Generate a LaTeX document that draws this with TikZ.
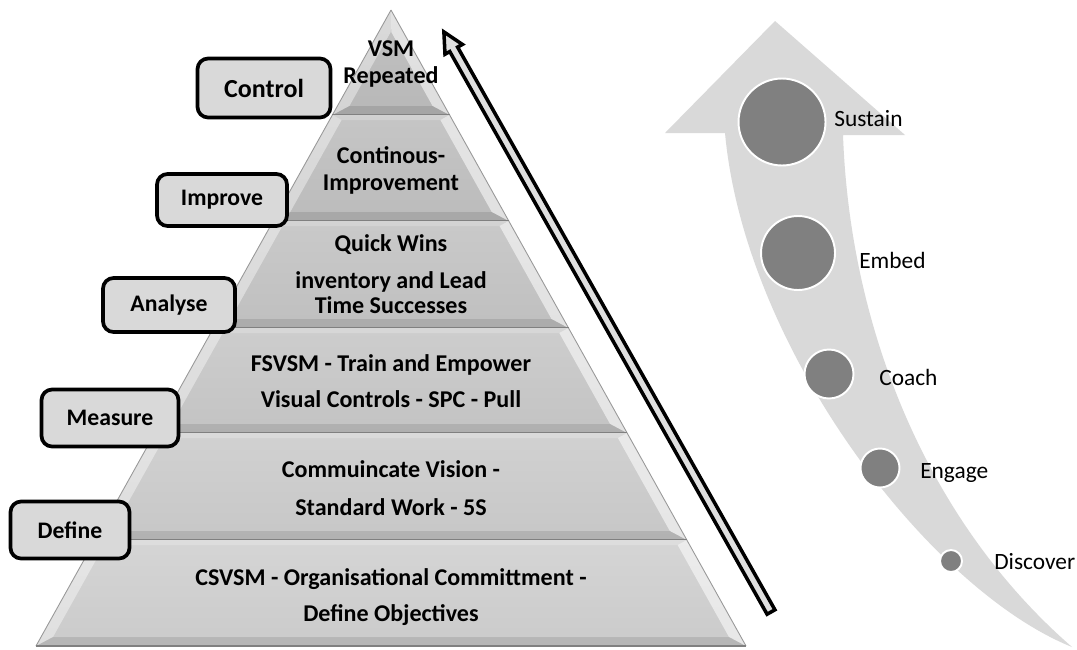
\documentclass[tikz,border=0pt]{standalone}
\usepackage{fontspec}
\setmainfont{Carlito}
\usetikzlibrary{positioning}

\begin{document}
\begin{tikzpicture}[x=0.02cm, y=-0.02cm,
  phase/.style = {draw, rounded corners=6pt, line width=2.1pt, fill=gray!30, inner sep=0pt,
    font=\bfseries\fontsize{13.5}{16}\selectfont},
  level/.style = {anchor=base, inner sep=0pt, font=\bfseries\fontsize{13.7}{16}\selectfont},
  stage/.style = {circle, draw=white, line width=1.1pt, fill=gray, inner sep=0pt},
  tag/.style = {inner sep=0pt, text depth=0pt, font=\fontsize{13.3}{16}\selectfont}]

\fill[white] (0,0) rectangle (1077,649);
\useasboundingbox (0,0) rectangle (1077,649);

% big curved arrow
\fill[gray!30] (665,133) -- (775,21) -- (905,135) -- (843,135)
  .. controls (850,330) and (928,522) .. (1072,647)
  .. controls (930,590) and (745,350) .. (725,133) -- cycle;

% pyramid layers
\foreach \yt/\yb/\sh in {10/115/52, 115/221/49, 221/328/46, 328/433/43, 433/540/40, 540/646/37} {
  \pgfmathsetmacro{\wt}{(\yt-10)*0.5582}
  \pgfmathsetmacro{\wb}{(\yb-10)*0.5582}
  \pgfmathsetmacro{\yi}{max(\yt+5,32)}
  \pgfmathsetmacro{\wi}{(\yi-10)*0.5582-12}
  \pgfmathsetmacro{\yj}{\yb-9}
  \pgfmathsetmacro{\wj}{(\yj-10)*0.5582-12}
  \pgfmathtruncatemacro{\shA}{\sh-4}
  \pgfmathtruncatemacro{\shB}{\sh+4}
  \shade[top color=gray!\shA, bottom color=gray!\shB]
    (391-\wt,\yt) -- (391+\wt,\yt) -- (391+\wb,\yb) -- (391-\wb,\yb) -- cycle;
  \fill[white, opacity=.2] (391-\wt,\yt) -- (391+\wt,\yt) -- (391+\wi,\yi) -- (391-\wi,\yi) -- cycle;
  \fill[white, opacity=.4] (391-\wt,\yt) -- (391-\wi,\yi) -- (391-\wj,\yj) -- (391-\wb,\yb) -- cycle;
  \fill[white, opacity=.55] (391+\wt,\yt) -- (391+\wi,\yi) -- (391+\wj,\yj) -- (391+\wb,\yb) -- cycle;
  \fill[black, opacity=.1] (391-\wb,\yb) -- (391+\wb,\yb) -- (391+\wj,\yj) -- (391-\wj,\yj) -- cycle;
  \draw[gray!80, line width=0.5pt] (391-\wt,\yt) -- (391-\wb,\yb) (391+\wt,\yt) -- (391+\wb,\yb);
  \draw[gray, line width=1.1pt] (391-\wb,\yb) -- (391+\wb,\yb);
}

\foreach \y/\txt [count=\i] in {48/VSM, 75/Repeated, 155/Continous-, 182/Improvement,
    243/Quick Wins, 280/inventory and Lead, 305/Time Successes,
    363/FSVSM - Train and Empower, 399/Visual Controls - SPC - Pull,
    469/Commuincate Vision -, 507/Standard Work - 5S,
    577/CSVSM - Organisational Committment -, 613/Define Objectives}
  \node[level] (line\i) at (391,\y+8) {\txt};

% phase boxes
\node[phase, minimum width=2.66cm, minimum height=1.18cm,
  font=\bfseries\fontsize{14.8}{16}\selectfont] (control) at (264,88) {Control};
\node[phase, minimum width=2.6cm, minimum height=1.04cm] (improve) at (222,200) {Improve};
\node[phase, minimum width=2.64cm, minimum height=1.08cm] (analyse) at (169,305) {Analyse};
\node[phase, minimum width=2.74cm, minimum height=1.14cm] (measure) at (110,418) {Measure};
\node[phase, minimum width=2.38cm, minimum height=1.14cm] (define) at (70,530) {Define};

% climbing arrow
\coordinate (climbfoot) at (771,612);
\begin{scope}[shift={(climbfoot)}, rotate=119.42]
  \filldraw[fill=gray!25, draw=black, line width=2pt, line join=miter]
    (0,-4.5) -- (646,-4.5) -- (646,-10) -- (666,0) -- (646,10) -- (646,4.5) -- (0,4.5) -- cycle;
\end{scope}

% stages
\node[stage, minimum size=1.74cm] (sustain) at (782,122) {};
\node[stage, minimum size=1.48cm] (embed) at (798,253) {};
\node[stage, minimum size=0.98cm] (coach) at (829,374) {};
\node[stage, minimum size=0.78cm] (engage) at (880,468) {};
\node[stage, minimum size=0.44cm] (discover) at (951,561) {};

\node[tag, right=1.5mm of sustain, yshift=0.08cm] (sustainlbl) {Sustain};
\node[tag, right=4.6mm of embed, yshift=-0.14cm] (embedlbl) {Embed};
\node[tag, right=4.9mm of coach, yshift=-0.06cm] (coachlbl) {Coach};
\node[tag, right=3.9mm of engage, yshift=-0.06cm] (engagelbl) {Engage};
\node[tag, right=6.2mm of discover] (discoverlbl) {Discover};

\end{tikzpicture}
\end{document}
